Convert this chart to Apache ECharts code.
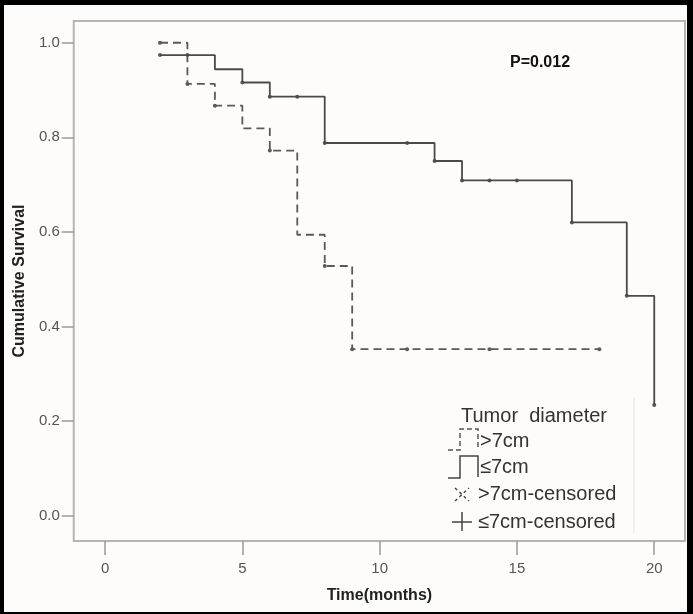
<!DOCTYPE html>
<html>
<head>
<meta charset="utf-8">
<script src="https://cdn.jsdelivr.net/npm/echarts@6/dist/echarts.min.js"></script>
<style>
  html, body { margin: 0; padding: 0; background: #000; }
  #main {
    position: absolute;
    left: 4px;
    top: 5px;
    width: 683px;
    height: 607px;
    background: #fdfcfb;
  }
</style>
</head>
<body>
<div id="main"></div>
<script>
// survival steps: [time, cumulative survival]
var bigSteps = [[2, 1.0], [3, 0.913], [4, 0.867], [5, 0.819], [6, 0.772], [7, 0.594], [8, 0.528], [9, 0.352], [18, 0.352]];
var smallSteps = [[2, 0.974], [4, 0.944], [5, 0.916], [6, 0.886], [8, 0.788], [12, 0.750], [13, 0.709], [17, 0.620], [19, 0.465], [20, 0.234]];
// censored marks
var bigCensored = [[2, 1.0], [3, 0.913], [4, 0.867], [6, 0.772], [8, 0.528], [9, 0.352], [11, 0.352], [14, 0.352], [18, 0.352]];
var smallCensored = [[2, 0.974], [3, 0.974], [5, 0.916], [6, 0.886], [7, 0.886], [8, 0.788], [11, 0.788], [12, 0.750], [13, 0.709], [14, 0.709], [15, 0.709], [17, 0.620], [19, 0.465], [20, 0.234]];
// tick labels
var xTicks = [0, 5, 10, 15, 20];
var yTicks = [0, 0.2, 0.4, 0.6, 0.8, 1.0];
var legendTitle = "Tumor  diameter";
var legendNames = [">7cm", "≤7cm", ">7cm-censored", "≤7cm-censored"];
var pText = "P=0.012";

var textColor = "#333";
var font = "Liberation Sans, Arial, sans-serif";

var myChart = echarts.init(document.getElementById("main"));

var option = {
  animation: false,
  grid: {
    left: 67,
    top: 16,
    right: 2,
    bottom: 71,
    show: true,
    borderColor: "#b4b4b4",
    borderWidth: 2,
    backgroundColor: "transparent"
  },
  xAxis: {
    type: "value",
    min: -1.14,
    max: 21.12,
    name: "Time(months)",
    nameLocation: "middle",
    nameGap: 47,
    nameTextStyle: { fontSize: 16, fontWeight: "bold", color: "#222", fontFamily: font },
    axisLine: { show: false, onZero: false },
    axisTick: { show: true, customValues: xTicks, length: 14, lineStyle: { color: "#999", width: 1.5 } },
    axisLabel: { customValues: xTicks, fontSize: 15, color: "#555", margin: 20, fontFamily: font },
    splitLine: { show: false }
  },
  yAxis: {
    type: "value",
    min: -0.0535,
    max: 1.046,
    name: "Cumulative Survival",
    nameLocation: "middle",
    nameGap: 44,
    nameTextStyle: { fontSize: 16, fontWeight: "bold", color: "#222", fontFamily: font },
    axisLine: { show: false, onZero: false },
    axisTick: { show: true, customValues: yTicks, length: 12, lineStyle: { color: "#999", width: 1.5 } },
    axisLabel: {
      customValues: yTicks,
      fontSize: 15,
      color: "#555",
      margin: 14,
      fontFamily: font,
      formatter: function (v) { return v.toFixed(1); }
    },
    splitLine: { show: false }
  },
  series: [
    {
      name: legendNames[0],
      type: "line",
      step: "end",
      data: bigSteps,
      showSymbol: false,
      lineStyle: { color: "#5a5a5a", width: 1.8, type: [8, 5] }
    },
    {
      name: legendNames[1],
      type: "line",
      step: "end",
      data: smallSteps,
      showSymbol: false,
      lineStyle: { color: "#4a4a4a", width: 1.8 }
    },
    {
      name: legendNames[2],
      type: "scatter",
      data: bigCensored,
      symbol: "circle",
      symbolSize: 4,
      itemStyle: { color: "#333" }
    },
    {
      name: legendNames[3],
      type: "scatter",
      data: smallCensored,
      symbol: "circle",
      symbolSize: 4,
      itemStyle: { color: "#333" }
    }
  ],
  graphic: [
    {
      type: "text",
      left: 506,
      top: 50,
      style: { text: pText, font: "bold 16px " + font, fill: "#111" }
    },
    // faint legend frame edge
    {
      type: "line",
      shape: { x1: 630, y1: 393, x2: 630, y2: 528 },
      style: { stroke: "#e2e2e2", lineWidth: 1 }
    },
    {
      type: "text",
      x: 457,
      y: 411,
      style: { text: legendTitle, font: "20px " + font, fill: textColor, verticalAlign: "middle" }
    },
    {
      type: "polyline",
      shape: { points: [[444, 445], [456, 445], [456, 424], [474, 424], [474, 445]] },
      style: { stroke: "#555", lineWidth: 1.5, lineDash: [5, 3], fill: null }
    },
    {
      type: "text",
      x: 476,
      y: 436,
      style: { text: legendNames[0], font: "20px " + font, fill: textColor, verticalAlign: "middle" }
    },
    {
      type: "polyline",
      shape: { points: [[444, 473], [456, 473], [456, 451], [474, 451], [474, 472]] },
      style: { stroke: "#444", lineWidth: 1.5, fill: null }
    },
    {
      type: "text",
      x: 476,
      y: 462,
      style: { text: legendNames[1], font: "20px " + font, fill: textColor, verticalAlign: "middle" }
    },
    {
      type: "line",
      shape: { x1: 451, y1: 483, x2: 465, y2: 496 },
      style: { stroke: "#444", lineWidth: 1.4, lineDash: [3, 3] }
    },
    {
      type: "line",
      shape: { x1: 451, y1: 496, x2: 465, y2: 483 },
      style: { stroke: "#444", lineWidth: 1.4, lineDash: [3, 3] }
    },
    {
      type: "text",
      x: 474,
      y: 489,
      style: { text: legendNames[2], font: "20px " + font, fill: textColor, verticalAlign: "middle" }
    },
    {
      type: "line",
      shape: { x1: 448, y1: 517, x2: 468, y2: 517 },
      style: { stroke: "#444", lineWidth: 1.5 }
    },
    {
      type: "line",
      shape: { x1: 458, y1: 507, x2: 458, y2: 526 },
      style: { stroke: "#444", lineWidth: 1.5 }
    },
    {
      type: "text",
      x: 474,
      y: 517,
      style: { text: legendNames[3], font: "20px " + font, fill: textColor, verticalAlign: "middle" }
    }
  ]
};

myChart.setOption(option);
window.addEventListener("resize", function () {
  myChart.resize();
});
</script>
</body>
</html>
